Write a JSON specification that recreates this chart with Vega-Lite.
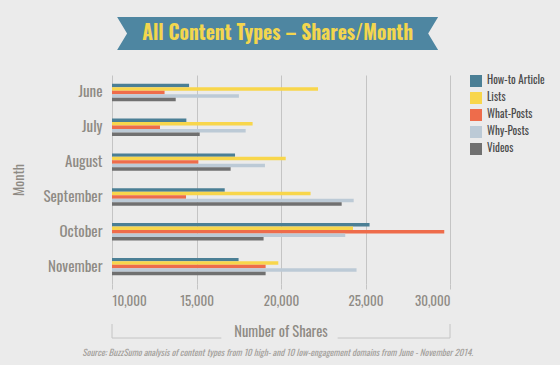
{
  "$schema": "https://vega.github.io/schema/vega-lite/v6.json",
  "background": "#EBEBEB",
  "padding": {"left": 12, "top": 17, "right": 17, "bottom": 8},
  "spacing": 10,
  "config": {
    "view": {"stroke": null},
    "font": "Oswald, 'Roboto Condensed', 'Liberation Sans Narrow', 'DejaVu Sans Condensed', sans-serif"
  },
  "resolve": {"scale": {"x": "independent", "y": "independent"}, "legend": {"color": "independent"}},
  "vconcat": [
    {
      "width": 338,
      "height": 48,
      "data": {"values": [{"title": "All Content Types – Shares/Month"}]},
      "layer": [
        {
          "mark": {"type": "point", "shape": "M-1,-0.1028L1,-0.1028L0.938,0L1,0.1028L-1,0.1028L-0.938,0Z", "filled": true, "color": "#4E86A1", "opacity": 1, "size": 103041, "strokeWidth": 0},
          "encoding": {
            "x": {"datum": 0.49, "type": "quantitative", "scale": {"domain": [0, 1]}, "axis": null},
            "y": {"datum": 0.344, "type": "quantitative", "scale": {"domain": [0, 1], "reverse": true}, "axis": null}
          }
        },
        {
          "mark": {"type": "text", "fontWeight": "bold", "fontSize": 19.5, "color": "#F3D64E", "align": "center", "baseline": "middle"},
          "encoding": {
            "text": {"field": "title"},
            "x": {"datum": 0.49, "type": "quantitative", "scale": {"domain": [0, 1]}, "axis": null},
            "y": {"datum": 0.344, "type": "quantitative", "scale": {"domain": [0, 1], "reverse": true}, "axis": null}
          }
        }
      ]
    },
    {
      "width": 338,
      "height": 209,
      "data": {"values": [
        {"month": "June", "type": "How-to Article", "shares": 14560},
        {"month": "June", "type": "Lists", "shares": 22190},
        {"month": "June", "type": "What-Posts", "shares": 13110},
        {"month": "June", "type": "Why-Posts", "shares": 17510},
        {"month": "June", "type": "Videos", "shares": 13770},
        {"month": "July", "type": "How-to Article", "shares": 14400},
        {"month": "July", "type": "Lists", "shares": 18320},
        {"month": "July", "type": "What-Posts", "shares": 12840},
        {"month": "July", "type": "Why-Posts", "shares": 17910},
        {"month": "July", "type": "Videos", "shares": 15190},
        {"month": "August", "type": "How-to Article", "shares": 17280},
        {"month": "August", "type": "Lists", "shares": 20280},
        {"month": "August", "type": "What-Posts", "shares": 15110},
        {"month": "August", "type": "Why-Posts", "shares": 19050},
        {"month": "August", "type": "Videos", "shares": 17020},
        {"month": "September", "type": "How-to Article", "shares": 16670},
        {"month": "September", "type": "Lists", "shares": 21750},
        {"month": "September", "type": "What-Posts", "shares": 14380},
        {"month": "September", "type": "Why-Posts", "shares": 24300},
        {"month": "September", "type": "Videos", "shares": 23590},
        {"month": "October", "type": "How-to Article", "shares": 25240},
        {"month": "October", "type": "Lists", "shares": 24260},
        {"month": "October", "type": "What-Posts", "shares": 29660},
        {"month": "October", "type": "Why-Posts", "shares": 23800},
        {"month": "October", "type": "Videos", "shares": 18970},
        {"month": "November", "type": "How-to Article", "shares": 17490},
        {"month": "November", "type": "Lists", "shares": 19840},
        {"month": "November", "type": "What-Posts", "shares": 19090},
        {"month": "November", "type": "Why-Posts", "shares": 24470},
        {"month": "November", "type": "Videos", "shares": 19090}
      ]},
      "mark": {"type": "bar"},
      "encoding": {
        "y": {
          "field": "month", "type": "nominal",
          "sort": ["June", "July", "August", "September", "October", "November"],
          "scale": {"paddingInner": 0.5, "paddingOuter": 0.25},
          "axis": {
            "title": "Month", "titleFontSize": 14, "titleFontWeight": "normal", "titleColor": "#8E8A84", "titlePadding": 16,
            "labelFontSize": 15, "labelColor": "#8E8A84", "labelPadding": 10, "ticks": false, "domain": false
          }
        },
        "yOffset": {
          "field": "type", "type": "nominal",
          "sort": ["How-to Article", "Lists", "What-Posts", "Why-Posts", "Videos"]
        },
        "x": {
          "field": "shares", "type": "quantitative",
          "scale": {"domain": [10000, 30000], "nice": false, "zero": false},
          "axis": {
            "title": null, "values": [10000, 15000, 20000, 25000, 30000], "format": ",d",
            "grid": true, "gridColor": "#C4C4C4", "domain": false, "tickColor": "#C4C4C4", "tickSize": 5,
            "labelFontSize": 13, "labelColor": "#8E8A84", "labelPadding": 6
          }
        },
        "x2": {"datum": 10000},
        "color": {
          "field": "type", "type": "nominal",
          "scale": {
            "domain": ["How-to Article", "Lists", "What-Posts", "Why-Posts", "Videos"],
            "range": ["#4B7F95", "#F8D64B", "#EE6C4B", "#BCCAD6", "#707070"]
          },
          "legend": {
            "title": null, "orient": "right", "offset": 20, "symbolType": "square", "symbolSize": 144,
            "symbolStrokeWidth": 0, "symbolOpacity": 1, "labelFontSize": 11, "labelColor": "#4A4A4A", "rowPadding": 5, "labelOffset": 5
          }
        }
      }
    },
    {
      "width": 338,
      "height": 40,
      "data": {"values": [{"axisTitle": "Number of Shares", "source": "Source: BuzzSumo analysis of content types from 10 high- and 10 low-engagement domains from June - November 2014."}]},
      "layer": [
        {
          "mark": {"type": "rule", "color": "#C4C4C4", "strokeWidth": 1},
          "encoding": {
            "x": {"datum": 10000, "type": "quantitative", "scale": {"domain": [10000, 30000], "nice": false, "zero": false}, "axis": null},
            "y": {"datum": 0.15, "type": "quantitative", "scale": {"domain": [0, 1], "reverse": true}, "axis": null},
            "y2": {"datum": 0.5}
          }
        },
        {
          "mark": {"type": "rule", "color": "#C4C4C4", "strokeWidth": 1},
          "encoding": {
            "x": {"datum": 30000, "type": "quantitative"},
            "y": {"datum": 0.15, "type": "quantitative"},
            "y2": {"datum": 0.5}
          }
        },
        {
          "mark": {"type": "rule", "color": "#C4C4C4", "strokeWidth": 1},
          "encoding": {
            "x": {"datum": 10000, "type": "quantitative"},
            "x2": {"datum": 16470},
            "y": {"datum": 0.5, "type": "quantitative"}
          }
        },
        {
          "mark": {"type": "rule", "color": "#C4C4C4", "strokeWidth": 1},
          "encoding": {
            "x": {"datum": 23350, "type": "quantitative"},
            "x2": {"datum": 30000},
            "y": {"datum": 0.5, "type": "quantitative"}
          }
        },
        {
          "mark": {"type": "text", "fontSize": 14.5, "color": "#8E8A84", "align": "center", "baseline": "middle"},
          "encoding": {
            "text": {"field": "axisTitle"},
            "x": {"datum": 20000, "type": "quantitative"},
            "y": {"datum": 0.38, "type": "quantitative"}
          }
        },
        {
          "mark": {"type": "text", "fontSize": 9, "fontStyle": "italic", "color": "#A3A09B", "align": "center", "baseline": "middle"},
          "encoding": {
            "text": {"field": "source"},
            "x": {"datum": 19800, "type": "quantitative"},
            "y": {"datum": 0.87, "type": "quantitative"}
          }
        }
      ]
    }
  ]
}
